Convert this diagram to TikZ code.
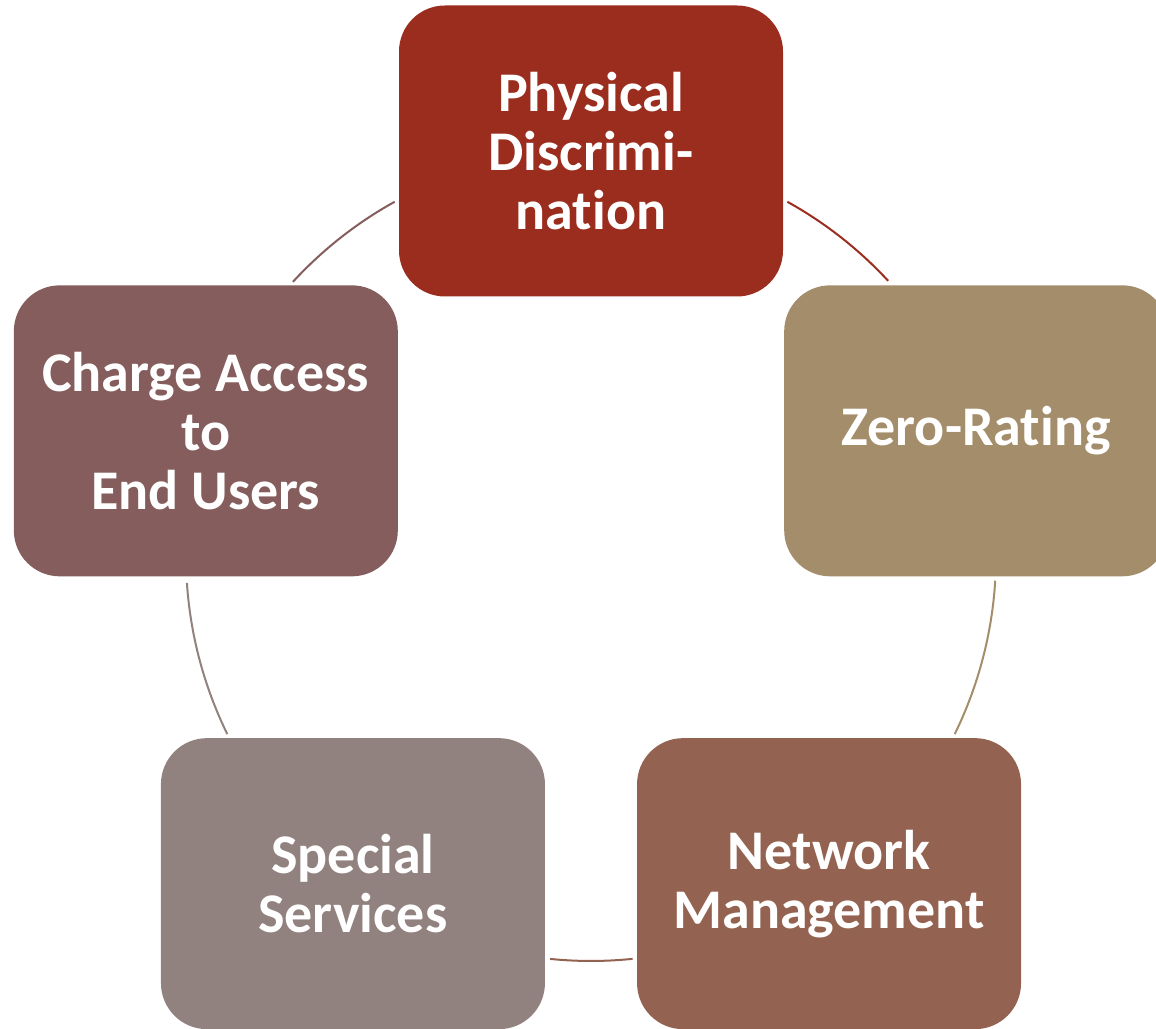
\documentclass[tikz,border=0pt]{standalone}
\usepackage{fontspec}
\setmainfont[Ligatures=NoCommon]{Carlito}
\usetikzlibrary{positioning,calc}

\definecolor{physred}{HTML}{9B2D1F}
\definecolor{zerotan}{HTML}{A48D6A}
\definecolor{netbrown}{HTML}{946251}
\definecolor{specgray}{HTML}{918280}
\definecolor{chargemauve}{HTML}{845D5C}

\begin{document}
\begin{tikzpicture}[x=1pt,y=1pt,
    item/.style={rectangle,rounded corners=46pt,minimum width=384pt,minimum height=291pt,
      inner sep=0pt,align=center,text=white,font=\bfseries\fontsize{56}{59}\selectfont},
    link/.style={line width=2pt}]
  \clip (0,0) rectangle (1156,1028);
  \coordinate (c) at (591,472);

  \node[item,fill=physred] (phys) at ($(c)+(90:405)$) {Physical\\Discrimi-\\nation};
  \node[item,fill=zerotan] (zero) at ($(c)+(18:405)$) {Zero-Rating};
  \node[item,fill=netbrown] (netw) at ($(c)+(-54:405)$) {Network\\Management};
  \node[item,fill=specgray] (spec) at ($(c)+(-126:405)$) {Special\\Services};
  \node[item,fill=chargemauve] (charge) at ($(c)+(162:405)$) {Charge Access\\to\\End Users};

  % arcs of the cycle, each in the colour of the box it leaves
  \coordinate (physout) at ($(c)+(61:405)$);
  \coordinate (zeroout) at ($(c)+(-3.5:405)$);
  \coordinate (netwout) at ($(c)+(-84.1:405)$);
  \coordinate (specout) at ($(c)+(-153.9:405)$);
  \coordinate (chargeout) at ($(c)+(137.4:405)$);
  \draw[link,physred] (physout) arc[start angle=61,end angle=42.8,radius=405];
  \draw[link,zerotan] (zeroout) arc[start angle=-3.5,end angle=-26.1,radius=405];
  \draw[link,netbrown] (netwout) arc[start angle=-84.1,end angle=-95.8,radius=405];
  \draw[link,specgray] (specout) arc[start angle=-153.9,end angle=-176.2,radius=405];
  \draw[link,chargemauve] (chargeout) arc[start angle=137.4,end angle=119,radius=405];
\end{tikzpicture}
\end{document}
